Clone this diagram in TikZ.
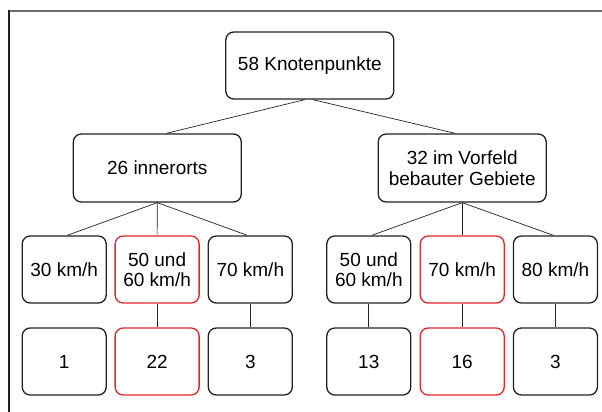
\documentclass[tikz,border=0pt]{standalone}
\usepackage{fontspec}
\setmainfont{Liberation Sans}
\usetikzlibrary{calc}
\definecolor{boxline}{HTML}{222222}
\definecolor{hotred}{HTML}{E0262B}
\definecolor{framegray}{HTML}{6E6E6E}
\begin{document}
\begin{tikzpicture}[x=1pt,y=-1pt,
  box/.style={draw=boxline, line width=1.3pt, rounded corners=8pt, inner sep=0pt,
    align=center, font=\fontsize{19}{20.5}\selectfont},
  wide/.style={box, minimum width=168pt, minimum height=67pt},
  narrow/.style={box, minimum width=84pt, minimum height=67pt},
  hot/.style={draw=hotred},
  link/.style={draw=boxline, line width=0.7pt}]
\useasboundingbox (0,0) rectangle (602,412);

% outer frame (top and left edges only)
\draw[framegray, line width=2pt] (8,11) -- (602,11);
\draw[boxline, line width=1.5pt] (9,10) -- (9,412);

% tree levels
\node[wide] (root) at (309.8,65.5) {58 Knotenpunkte};

\node[wide, minimum height=68pt] (inner) at (157.3,168) {26 innerorts};
\node[wide, minimum height=68pt] (outer) at (462.2,168) {32 im Vorfeld\\bebauter Gebiete};

\node[narrow]      (a1) at (64.2,269.5)  {30 km/h};
\node[narrow, hot] (a2) at (157.1,269.5) {50 und\\60 km/h};
\node[narrow]      (a3) at (250.3,269.5) {70 km/h};
\node[narrow]      (b1) at (368.8,269.5) {50 und\\60 km/h};
\node[narrow, hot] (b2) at (462.2,269.5) {70 km/h};
\node[narrow]      (b3) at (555.4,269.5) {80 km/h};

\node[narrow]      (n1) at (64.2,361.5)  {1};
\node[narrow, hot] (n2) at (157.1,361.5) {22};
\node[narrow]      (n3) at (250.3,361.5) {3};
\node[narrow]      (m1) at (368.8,361.5) {13};
\node[narrow, hot] (m2) at (462.2,361.5) {16};
\node[narrow]      (m3) at (555.4,361.5) {3};

% connectors
\draw[link] ($(root.south)+(-5,0)$) -- ($(inner.north)+(9,0)$);
\draw[link] ($(root.south)+(3,0)$)  -- ($(outer.north)+(-7,0)$);

\draw[link] (inner.south) -- ($(a1.north)+(3,0)$);
\draw[link] (inner.south) -- (a2.north);
\draw[link] (inner.south) -- ($(a3.north)+(-3,0)$);
\draw[link] (outer.south) -- ($(b1.north)+(3,0)$);
\draw[link] (outer.south) -- (b2.north);
\draw[link] (outer.south) -- ($(b3.north)+(-2,0)$);

\draw[link] (a2.south) -- (n2.north);
\draw[link] (a3.south) -- (n3.north);
\draw[link] (b1.south) -- (m1.north);
\draw[link] (b2.south) -- (m2.north);
\draw[link] (b3.south) -- (m3.north);
\end{tikzpicture}
\end{document}
